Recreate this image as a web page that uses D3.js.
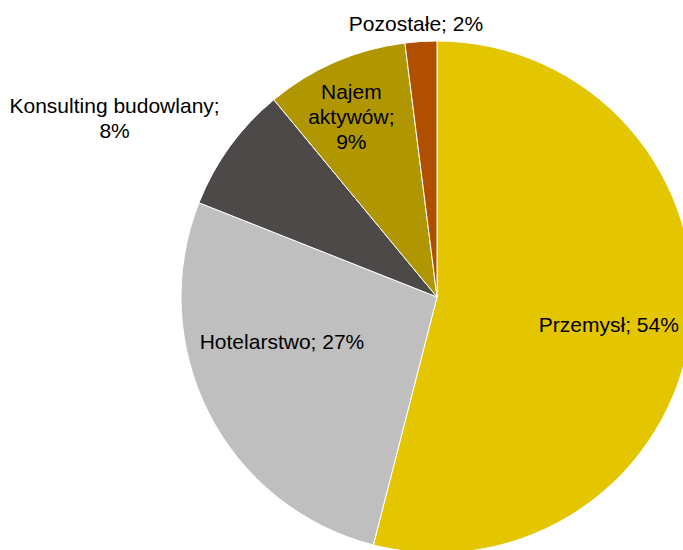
<!DOCTYPE html>
<html>
<head>
<meta charset="utf-8">
<script src="https://cdn.jsdelivr.net/npm/d3@7"></script>
<style>
  html, body { margin: 0; padding: 0; background: #ffffff; }
  svg { display: block; }
  text { font-family: "Liberation Sans", Arial, sans-serif; font-size: 21px; fill: #000; }
</style>
</head>
<body>
<svg id="chart" width="683" height="550"></svg>
<script>
// Revenue structure by segment (share, %)
const categories = ["Przemysł", "Hotelarstwo", "Konsulting budowlany", "Najem aktywów", "Pozostałe"];
const shares = [54, 27, 8, 9, 2];
const colors = ["#E3C500", "#BFBFBF", "#4D4948", "#B09600", "#B04F00"];
// Label text lines per slice
const labelLines = [
  ["Przemysł; 54%"],
  ["Hotelarstwo; 27%"],
  ["Konsulting budowlany;", "8%"],
  ["Najem", "aktywów;", "9%"],
  ["Pozostałe; 2%"]
];

const svg = d3.select("#chart");
const cx = 437, cy = 297, R = 256;
const g = svg.append("g").attr("transform", `translate(${cx},${cy})`);

const pie = d3.pie().sort(null).value(d => d)(shares);
const arc = d3.arc().innerRadius(0).outerRadius(R);

g.selectAll("path.slice")
  .data(pie)
  .join("path")
  .attr("class", "slice")
  .attr("d", arc)
  .attr("fill", (d, i) => colors[i])
  .attr("stroke", "#ffffff")
  .attr("stroke-width", 1);

// Label placement: radius factor and angular nudge (degrees) from slice middle
const labelRadius = [0.68, 0.63, 1.44, 0.78, 1.07];
const labelNudge = [2, 11, -7, -2, -0.8];
const lineH = 25;

pie.forEach((d, i) => {
  const mid = (d.startAngle + d.endAngle) / 2 + labelNudge[i] * Math.PI / 180;
  const r = R * labelRadius[i];
  const x = Math.sin(mid) * r;
  const y = -Math.cos(mid) * r;
  const lines = labelLines[i];
  const t = g.append("text")
    .attr("text-anchor", "middle")
    .attr("transform", `translate(${x},${y})`);
  lines.forEach((ln, j) => {
    t.append("tspan")
      .attr("x", 0)
      .attr("y", (j - (lines.length - 1) / 2) * lineH)
      .attr("dy", "0.35em")
      .text(ln);
  });
});
</script>
</body>
</html>
